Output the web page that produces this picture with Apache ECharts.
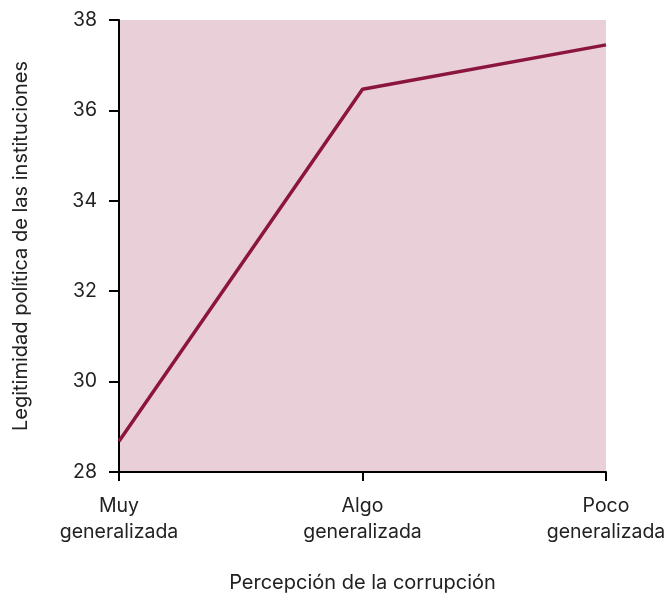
<!DOCTYPE html>
<html><head><meta charset="utf-8">
<script src="https://cdn.jsdelivr.net/npm/echarts@6/dist/echarts.min.js"></script>
<style>html,body{margin:0;padding:0;background:#fff}#c{width:670px;height:594px}</style>
</head><body><div id="c"></div>
<script>
const categories = ['Muy\ngeneralizada', 'Algo\ngeneralizada', 'Poco\ngeneralizada'];
const values = [28.68, 36.47, 37.45];
const yTicks = [28, 30, 32, 34, 36, 38];

const chart = echarts.init(document.getElementById('c'));
const font = 'Inter, Liberation Sans, Arial, sans-serif';
chart.setOption({
  animation: false,
  textStyle: { fontFamily: font },
  grid: { left: 119, right: 64, top: 20, bottom: 122, backgroundColor: '#e8cfd8', show: true, borderWidth: 0, containLabel: false, outerBoundsMode: 'none' },
  xAxis: {
    type: 'category', data: categories, boundaryGap: false,
    name: 'Percepción de la corrupción', nameLocation: 'middle', nameGap: 101,
    nameTextStyle: { fontSize: 20, color: '#222', fontFamily: font },
    axisLine: { lineStyle: { color: '#000', width: 2 } },
    axisTick: { show: true, length: 9, lineStyle: { color: '#000', width: 2 } },
    axisLabel: { fontSize: 19.5, color: '#222', margin: 21, lineHeight: 26, fontFamily: font },
    splitLine: { show: false }
  },
  yAxis: {
    type: 'value', min: yTicks[0], max: yTicks[yTicks.length - 1], interval: 2,
    name: 'Legitimidad política de las instituciones', nameLocation: 'middle', nameGap: 88,
    nameTextStyle: { fontSize: 20, color: '#222', fontFamily: font },
    axisLine: { show: true, lineStyle: { color: '#000', width: 2 } },
    axisTick: { show: true, length: 10, lineStyle: { color: '#000', width: 2 } },
    axisLabel: { fontSize: 19.5, color: '#222', margin: 22, fontFamily: font },
    splitLine: { show: false }
  },
  series: [{
    type: 'line', data: values, symbol: 'none',
    lineStyle: { color: '#8c1540', width: 3.5 }
  }]
});
</script></body></html>
